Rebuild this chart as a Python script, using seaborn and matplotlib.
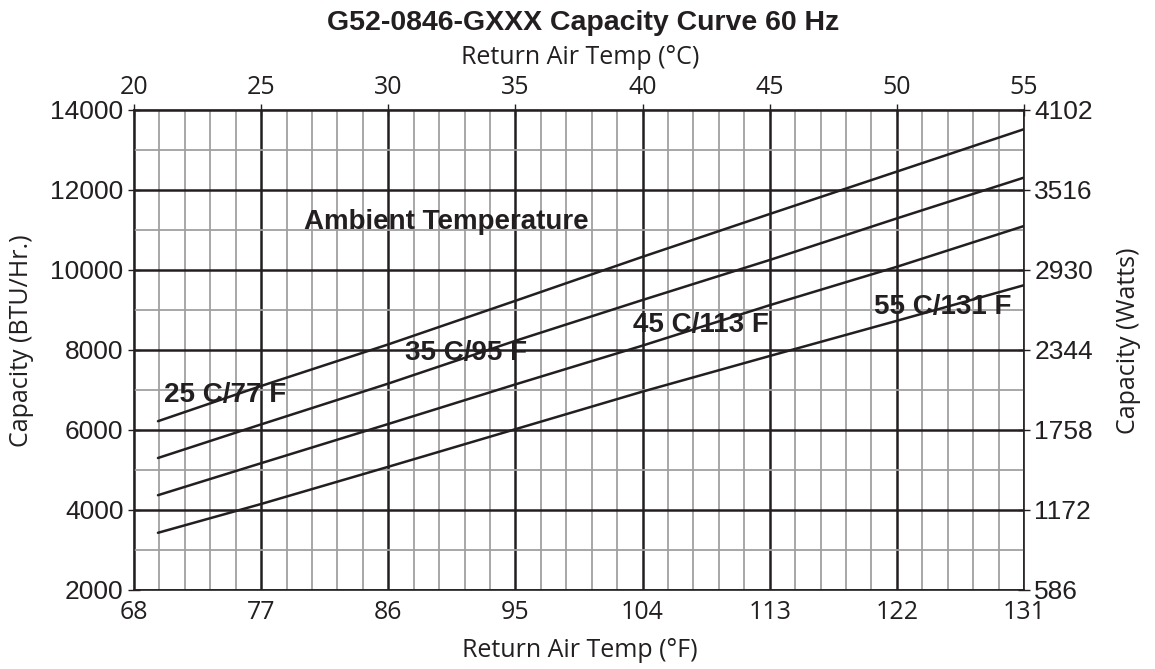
import numpy as np
import pandas as pd
import seaborn as sns
import matplotlib.pyplot as plt
from matplotlib.ticker import FixedLocator, MultipleLocator

sns.set_style("white")
plt.rcParams['font.family'] = ['Liberation Sans', 'DejaVu Sans']

# values (x in deg F, capacity in BTU/Hr.)
temp_f = [69.7, 77, 86, 95, 104, 113, 122, 131]
cap_25c = [6220, 7100, 8140, 9230, 10330, 11400, 12460, 13520]
cap_35c = [5300, 6140, 7160, 8230, 9250, 10250, 11290, 12310]
cap_45c = [4370, 5170, 6150, 7140, 8110, 9120, 10080, 11100]
cap_55c = [3430, 4150, 5080, 6020, 6960, 7850, 8730, 9620]
ambient = ['25 C/77 F', '35 C/95 F', '45 C/113 F', '55 C/131 F']

f_ticks = [68, 77, 86, 95, 104, 113, 122, 131]
c_ticks = [20, 25, 30, 35, 40, 45, 50, 55]
btu_ticks = [2000, 4000, 6000, 8000, 10000, 12000, 14000]
watt_labels = ['586', '1172', '1758', '2344', '2930', '3516', '4102']

df = pd.DataFrame({
    'temp_f': temp_f * 4,
    'capacity': cap_25c + cap_35c + cap_45c + cap_55c,
    'ambient': np.repeat(ambient, len(temp_f)),
})

ink = '#231f20'
humanist = ['Open Sans', 'DejaVu Sans']

fig, ax = plt.subplots(figsize=(11.55, 6.69), dpi=100)
fig.subplots_adjust(left=0.116, right=0.8866, top=0.8356, bottom=0.1181)

sns.lineplot(data=df, x='temp_f', y='capacity', hue='ambient',
             palette=[ink] * 4, linewidth=1.8, legend=False, ax=ax)

ax.set_xlim(68, 131)
ax.set_ylim(2000, 14000)

# grid: one line per deg C and per 1000 BTU, dark lines on the labelled ticks
ax.xaxis.set_minor_locator(FixedLocator(np.linspace(68, 131, 36)))
ax.yaxis.set_minor_locator(MultipleLocator(1000))
ax.grid(which='minor', color='#a0a0a0', linewidth=1.3)
ax.grid(which='major', color=ink, linewidth=1.8)
ax.set_axisbelow(True)

ax.set_xticks(f_ticks, labels=[str(v) for v in f_ticks],
              fontfamily=humanist, fontsize=18, color=ink)
ax.set_yticks(btu_ticks, labels=[str(v) for v in btu_ticks], fontsize=19, color=ink)
ax.tick_params(which='minor', length=0)
ax.tick_params(which='major', direction='inout', length=9, width=1, color=ink, pad=3)

for s in ax.spines.values():
    s.set_color(ink)
    s.set_linewidth(1.2)

# top axis in deg C
secax = ax.secondary_xaxis('top', functions=(lambda f: (f - 32) / 1.8, lambda c: c * 1.8 + 32))
secax.set_xticks(c_ticks, labels=[str(v) for v in c_ticks],
                 fontfamily=humanist, fontsize=18, color=ink)
secax.tick_params(direction='inout', length=9, width=1, color=ink, pad=3)
secax.spines['top'].set_color(ink)
ax.text(0.501, 1.11, 'Return Air Temp (°C)', transform=ax.transAxes, ha='center', va='center',
        fontfamily=humanist, fontsize=18, color=ink)

# right axis in Watts
ax2 = ax.twinx()
ax2.set_ylim(2000, 14000)
ax2.set_yticks(btu_ticks, labels=watt_labels, fontsize=19, color=ink)
ax2.tick_params(direction='inout', length=9, width=1, color=ink, pad=3)
ax2.grid(False)
for s in ax2.spines.values():
    s.set_visible(False)
ax2.set_ylabel('Capacity (Watts)', fontfamily=humanist, fontsize=18, color=ink, va='center')
ax2.yaxis.set_label_coords(1.117, 0.52)

ax.set_xlabel('Return Air Temp (°F)', fontfamily=humanist, fontsize=18, color=ink, va='center')
ax.xaxis.set_label_coords(0.501, -0.127)
ax.set_ylabel('Capacity (BTU/Hr.)', fontfamily=humanist, fontsize=18, color=ink, va='center')
ax.yaxis.set_label_coords(-0.126, 0.519)

fig.text(0.505, 0.965, 'G52-0846-GXXX Capacity Curve 60 Hz', ha='center', va='center',
         fontsize=20.5, fontweight='bold', color=ink)

label_kw = dict(fontsize=20, fontweight='bold', color=ink, va='center', ha='left')
ax.text(80.0, 11200, 'Ambient Temperature', **label_kw)
ax.text(70.1, 6870, ambient[0], **label_kw)
ax.text(87.2, 7920, ambient[1], **label_kw)
ax.text(103.3, 8620, ambient[2], **label_kw)
ax.text(120.4, 9070, ambient[3], **label_kw)

fig.savefig('out.png', dpi=100)
